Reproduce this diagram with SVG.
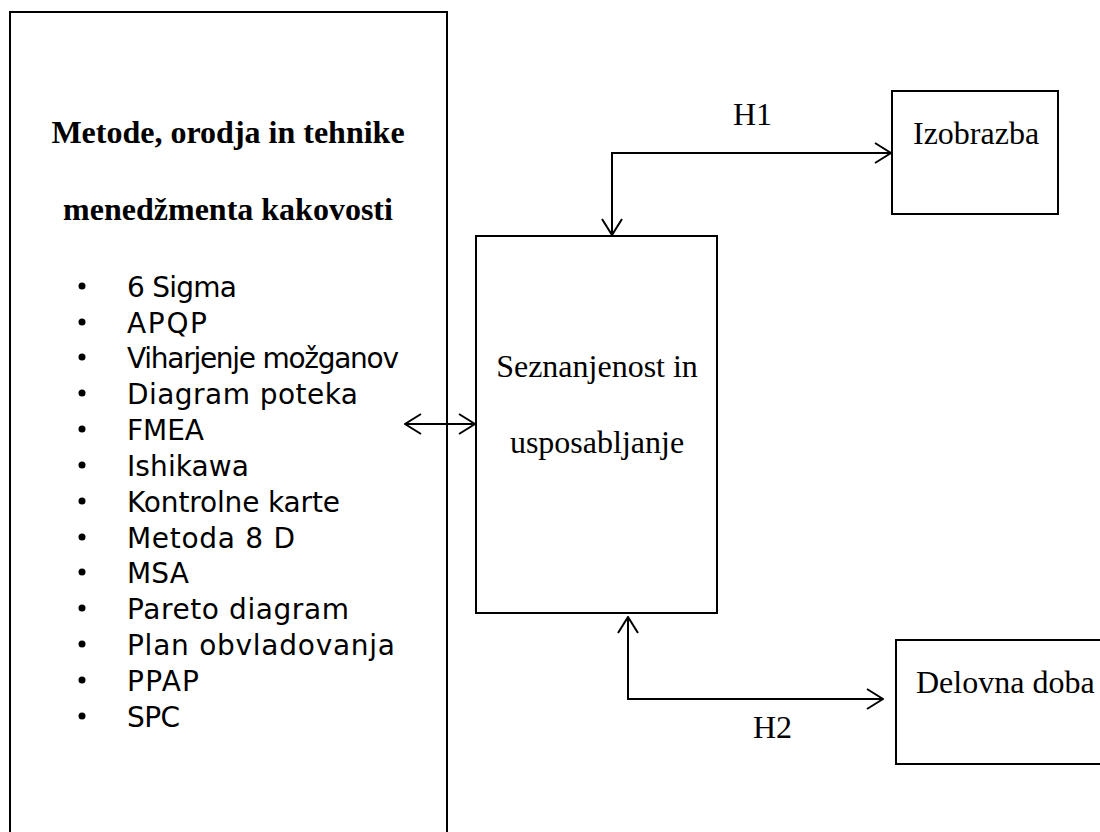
<svg xmlns="http://www.w3.org/2000/svg" width="1100" height="832" viewBox="0 0 1100 832">
<style>
.box{fill:#fff;stroke:#000;stroke-width:2}
.ln{fill:none;stroke:#000;stroke-width:2}
.serif{font-family:"Liberation Serif","Times New Roman",serif;font-size:32px;fill:#000}
.title{font-family:"Liberation Serif","Times New Roman",serif;font-size:32px;font-weight:bold;fill:#000}
.li{font-family:"DejaVu Sans",sans-serif;font-size:28px;fill:#000}
</style>
<defs>
<marker id="ah" viewBox="0 0 18 22" refX="17" refY="11" markerWidth="18" markerHeight="22" markerUnits="userSpaceOnUse" orient="auto-start-reverse">
<path d="M1,1 L17,11 L1,21" fill="none" stroke="#000" stroke-width="2"/>
</marker>
</defs>
<rect width="1100" height="832" fill="#fff"/>
<g id="methods">
<rect class="box" x="10" y="12" width="437" height="840"/>
<text class="title" x="228" y="143" text-anchor="middle">Metode, orodja in tehnike</text>
<text class="title" x="228" y="220" text-anchor="middle">menedžmenta kakovosti</text>
<g fill="#000">
<circle cx="82" cy="286" r="3.5"/><circle cx="82" cy="322" r="3.5"/><circle cx="82" cy="357" r="3.5"/><circle cx="82" cy="393" r="3.5"/><circle cx="82" cy="429" r="3.5"/><circle cx="82" cy="465" r="3.5"/><circle cx="82" cy="501" r="3.5"/><circle cx="82" cy="537" r="3.5"/><circle cx="82" cy="572" r="3.5"/><circle cx="82" cy="608" r="3.5"/><circle cx="82" cy="644" r="3.5"/><circle cx="82" cy="680" r="3.5"/><circle cx="82" cy="716" r="3.5"/>
</g>
<text class="li" x="127" y="297" textLength="110">6 Sigma</text>
<text class="li" x="127" y="333" textLength="80">APQP</text>
<text class="li" x="127" y="368" textLength="272">Viharjenje možganov</text>
<text class="li" x="127" y="404" textLength="231">Diagram poteka</text>
<text class="li" x="127" y="440" textLength="77">FMEA</text>
<text class="li" x="127" y="476" textLength="122">Ishikawa</text>
<text class="li" x="127" y="512" textLength="213">Kontrolne karte</text>
<text class="li" x="127" y="548" textLength="168">Metoda 8 D</text>
<text class="li" x="127" y="583" textLength="62">MSA</text>
<text class="li" x="127" y="619" textLength="222">Pareto diagram</text>
<text class="li" x="127" y="655" textLength="268">Plan obvladovanja</text>
<text class="li" x="127" y="691" textLength="72">PPAP</text>
<text class="li" x="127" y="727" textLength="53">SPC</text>
</g>
<g id="seznanjenost">
<rect class="box" x="476" y="236" width="241" height="377"/>
<text class="serif" x="597" y="377" text-anchor="middle">Seznanjenost in</text>
<text class="serif" x="597" y="453" text-anchor="middle">usposabljanje</text>
</g>
<g id="izobrazba">
<rect class="box" x="892" y="91" width="166" height="123"/>
<text class="serif" x="913" y="144">Izobrazba</text>
</g>
<g id="delovna">
<rect class="box" x="896" y="640" width="220" height="124"/>
<text class="serif" x="916" y="693">Delovna doba</text>
</g>
<g id="connectors">
<line class="ln" x1="405" y1="424" x2="475" y2="424" marker-start="url(#ah)" marker-end="url(#ah)"/>
<polyline class="ln" points="891,153 612,153 612,235" marker-start="url(#ah)" marker-end="url(#ah)"/>
<polyline class="ln" points="628,617 628,699 883,699" marker-start="url(#ah)" marker-end="url(#ah)"/>
<text class="serif" x="733" y="125">H1</text>
<text class="serif" x="753" y="738">H2</text>
</g>
</svg>
